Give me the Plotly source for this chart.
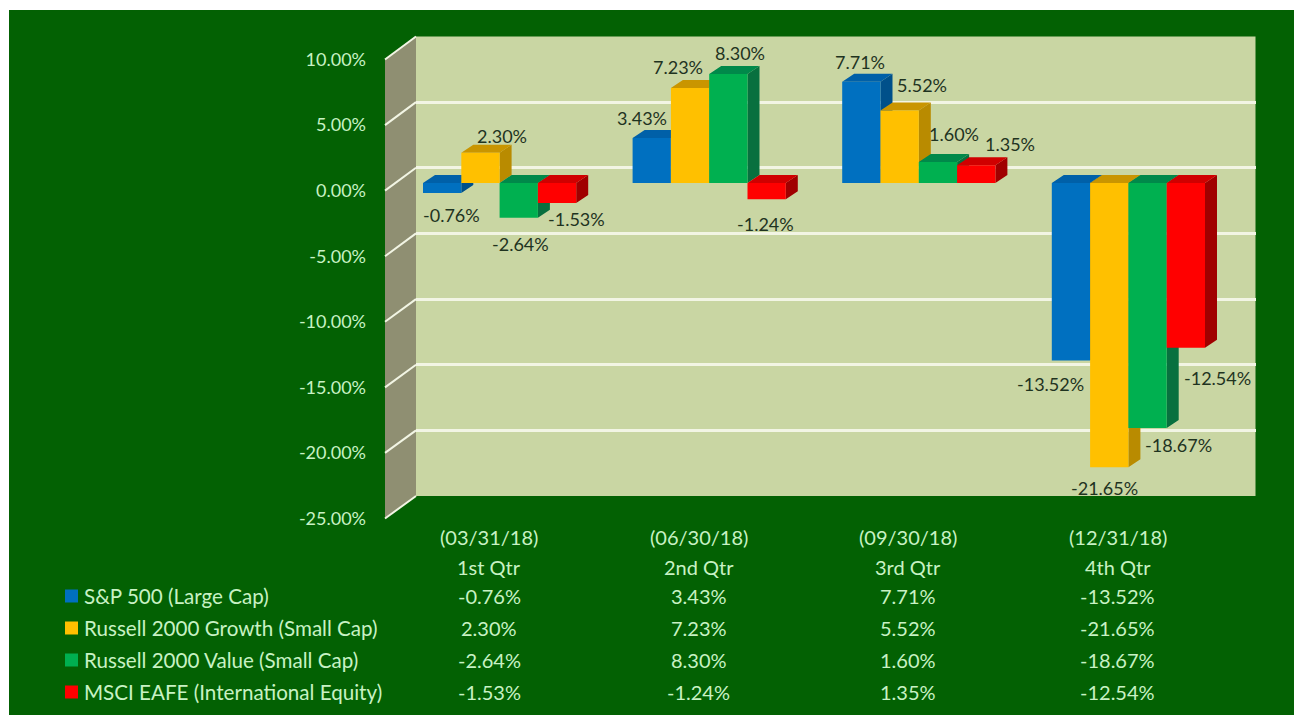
import plotly.graph_objects as go

periods = ["(03/31/18)", "(06/30/18)", "(09/30/18)", "(12/31/18)"]
quarters = ["1st Qtr", "2nd Qtr", "3rd Qtr", "4th Qtr"]
series_names = ["S&P 500 (Large Cap)", "Russell 2000 Growth (Small Cap)",
                "Russell 2000 Value (Small Cap)", "MSCI EAFE (International Equity)"]
sp500 = [-0.76, 3.43, 7.71, -13.52]
growth = [2.30, 7.23, 5.52, -21.65]
value = [-2.64, 8.30, 1.60, -18.67]
eafe = [-1.53, -1.24, 1.35, -12.54]
series_values = [sp500, growth, value, eafe]
axis_ticks = [10, 5, 0, -5, -10, -15, -20, -25]

front_colors = ["#0070C0", "#FFC000", "#00B050", "#FF0000"]
top_colors = ["#0060A8", "#C99500", "#00894A", "#D00000"]
side_colors = ["#00508A", "#B98B00", "#08703F", "#A00000"]

# label offsets (px) from each bar tip, per series then quarter
label_dx = [[9, -10, -1, -20], [22, -12, 22, -5], [2, 12, 16, 31], [19, -1, 34, 32]]
label_dy = [[-22, 20, 20, -23], [17, 21, 26, -21], [-26, 21, 28, -17], [-16, -25, 21, -30]]

W, H = 1294, 715
BG = "#036103"
WALL = "#C9D6A3"
SIDEWALL = "#8F8F72"
LIGHT = "#C8F2C4"
DARK = "#1F331F"
FONT = "Lato"

# geometry of the drawing, in pixels
wall_l, wall_r, wall_t, wall_b = 416, 1255.5, 36.5, 496
front_l, front_t, front_b = 385, 59.5, 518.5
px_per_pct = (wall_b - wall_t) / 35
zero_px = 183
c0_px, c_step = 499.6, 209.6
bar_w = 38.3 / c_step
dx = 12 / c_step
dy = 8 / px_per_pct


def px(x):
    return x / W


def py(y):
    return 1 - y / H


x_rng = [(wall_l - c0_px) / c_step, (wall_r - c0_px) / c_step]
bar_rng = [(zero_px - wall_b) / px_per_pct, (zero_px - wall_t) / px_per_pct]
dom_y = [py(wall_b), py(wall_t)]

fig = go.Figure()
# carrier so that the back wall grid exists
fig.add_trace(go.Scatter(x=[0], y=[0], xaxis="x", yaxis="y", mode="markers",
                         marker=dict(opacity=0), hoverinfo="skip", showlegend=False))
# carrier for the tick labels at the front of the side wall
fig.add_trace(go.Scatter(x=[0], y=[0], xaxis="x", yaxis="y4", mode="markers",
                         marker=dict(opacity=0), hoverinfo="skip", showlegend=False))

# depth faces
for j, vals in enumerate(series_values):
    sx, sy, tx, ty = [], [], [], []
    for i, v in enumerate(vals):
        x0 = i + (j - 2) * bar_w
        x1 = x0 + bar_w
        a, b = max(v, 0), min(v, 0)
        sx += [x1, x1 + dx, x1 + dx, x1, x1, None]
        sy += [b, b + dy, a + dy, a, b, None]
        tx += [x0, x0 + dx, x1 + dx, x1, x0, None]
        ty += [a, a + dy, a + dy, a, a, None]
    fig.add_trace(go.Scatter(x=sx, y=sy, xaxis="x", yaxis="y2", mode="lines", fill="toself",
                             line=dict(width=0), fillcolor=side_colors[j],
                             hoverinfo="skip", showlegend=False))
    fig.add_trace(go.Scatter(x=tx, y=ty, xaxis="x", yaxis="y2", mode="lines", fill="toself",
                             line=dict(width=0), fillcolor=top_colors[j],
                             hoverinfo="skip", showlegend=False))

# front faces
for j, vals in enumerate(series_values):
    fig.add_trace(go.Bar(x=[i + (j - 1.5) * bar_w for i in range(4)], y=vals, width=bar_w,
                         xaxis="x", yaxis="y3", name=series_names[j],
                         marker=dict(color=front_colors[j], line=dict(width=0)),
                         showlegend=False))

annotations = []
for j, vals in enumerate(series_values):
    for i, v in enumerate(vals):
        annotations.append(dict(x=i + (j - 1.5) * bar_w, y=v, xref="x", yref="y3",
                                text=f"{v:.2f}%", showarrow=False,
                                xshift=label_dx[j][i], yshift=label_dy[j][i],
                                font=dict(family=FONT, size=18, color=DARK)))

col_x = [489 + c_step * i for i in range(4)]
row_y = [596, 628, 660, 692]


def tbl(x, y, text, anchor="center", size=20):
    annotations.append(dict(x=px(x), y=py(y), xref="paper", yref="paper", text=text,
                            showarrow=False, xanchor=anchor, yanchor="middle",
                            font=dict(family=FONT, size=size, color=LIGHT)))


for i in range(4):
    tbl(col_x[i], 537, periods[i])
    tbl(col_x[i], 567, quarters[i])
    for j, vals in enumerate(series_values):
        tbl(col_x[i], row_y[j], f"{vals[i]:.2f}%")
for j, name in enumerate(series_names):
    tbl(82, row_y[j], name, "left", 20.6)

shapes = [
    dict(type="rect", xref="paper", yref="paper", x0=px(9), x1=1, y0=0, y1=py(10),
         fillcolor=BG, line=dict(width=0), layer="below"),
    dict(type="rect", xref="paper", yref="paper", x0=px(wall_l), x1=px(wall_r),
         y0=py(wall_b), y1=py(wall_t), fillcolor=WALL, line=dict(width=0), layer="below"),
    dict(type="path", xref="paper", yref="paper", layer="below", line=dict(width=0),
         fillcolor=SIDEWALL,
         path=f"M{px(front_l)},{py(front_t)} L{px(wall_l)},{py(wall_t)} "
              f"L{px(wall_l)},{py(wall_b)} L{px(front_l)},{py(front_b)} Z"),
]
for t in axis_ticks:
    f = (10 - t) / 35
    y_back = wall_t + f * (wall_b - wall_t)
    y_front = front_t + f * (front_b - front_t)
    shapes.append(dict(type="line", xref="paper", yref="paper",
                       x0=px(front_l), y0=py(y_front), x1=px(wall_l), y1=py(y_back),
                       line=dict(color="#F2F5E4", width=2), layer="below"))
for j in range(4):
    shapes.append(dict(type="rect", xref="paper", yref="paper", layer="below",
                       x0=px(65), x1=px(78), y0=py(row_y[j] + 6.5), y1=py(row_y[j] - 6.5),
                       fillcolor=front_colors[j], line=dict(width=0)))

hidden_x = dict(range=x_rng, domain=[px(wall_l), px(wall_r)], showgrid=False, zeroline=False,
                showticklabels=False, ticks="", showline=False, fixedrange=True)
overlay = dict(range=bar_rng, domain=dom_y, overlaying="y", anchor="x", showgrid=False,
               zeroline=False, showticklabels=False, ticks="", showline=False)

fig.update_layout(
    width=W, height=H, autosize=False,
    margin=dict(l=0, r=0, t=0, b=0, autoexpand=False),
    paper_bgcolor="white", plot_bgcolor="rgba(0,0,0,0)",
    barmode="overlay", showlegend=False,
    font=dict(family=FONT),
    xaxis=hidden_x,
    yaxis=dict(range=[-25, 10], domain=dom_y, tickvals=axis_ticks, showgrid=True,
               gridcolor="#F2F5E4", gridwidth=2.5, zeroline=False, showticklabels=False,
               ticks="", showline=False),
    yaxis2=overlay,
    yaxis3=overlay,
    yaxis4=dict(range=[-25, 10], domain=[py(front_b), py(front_t)], anchor="free",
                position=px(366), side="left", tickvals=axis_ticks,
                ticktext=[f"{t:.2f}%" for t in axis_ticks], showgrid=False, zeroline=False,
                showline=False, ticks="", tickfont=dict(family=FONT, size=18, color=LIGHT)),
    annotations=annotations,
    shapes=shapes,
)
fig.write_html("out.html", config=dict(displayModeBar=False),
               post_script="document.body.style.margin='0';")
